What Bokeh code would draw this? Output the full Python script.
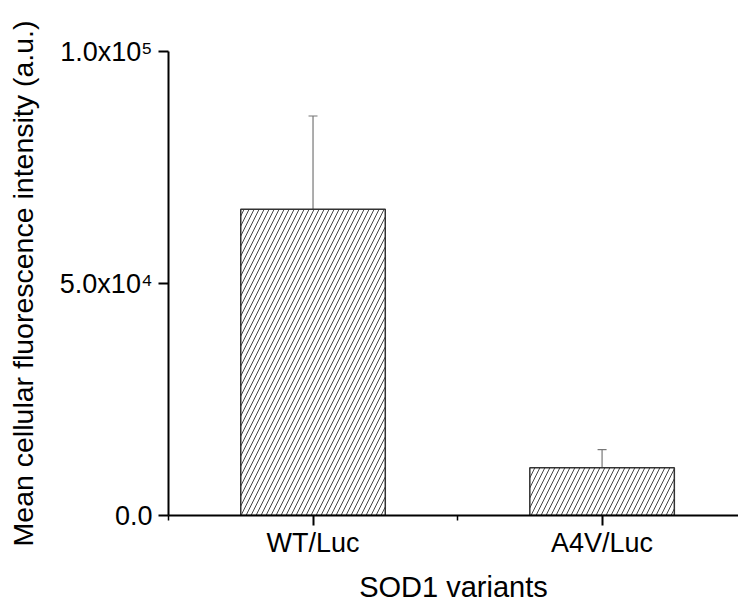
from bokeh.plotting import figure
from bokeh.models import ColumnDataSource, Range1d, FixedTicker, Whisker, TeeHead
from bokeh.embed import file_html
from bokeh.resources import INLINE

categories = ["WT/Luc", "A4V/Luc"]
positions = [1, 2]
means = [66000, 10300]
errors = [20100, 3900]
y_ticks = [0, 50000, 100000]
y_tick_labels = ["0.0", "5.0x10\u2074", "1.0x10\u2075"]
x_title = "SOD1 variants"
y_title = "Mean cellular fluorescence intensity (a.u.)"

src = ColumnDataSource(dict(
    x=positions,
    top=means,
    upper=[m + e for m, e in zip(means, errors)],
))

FONT = "Liberation Sans"

p = figure(width=738, height=605, output_backend="svg", toolbar_location=None,
           x_range=Range1d(0.5, 2.472), y_range=Range1d(0, 100000),
           min_border_left=168, min_border_right=0, min_border_top=51,
           min_border_bottom=88)
p.outline_line_color = None
p.xgrid.visible = False
p.ygrid.visible = False
p.background_fill_color = "white"
p.border_fill_color = "white"

p.vbar(x="x", top="top", width=0.5, bottom=0, source=src,
       fill_color="white", line_color="#333333", line_width=1.5,
       hatch_pattern="/", hatch_scale=10, hatch_weight=1, hatch_color="#444444")

w = Whisker(base="x", lower="top", upper="upper", source=src, dimension="height",
            line_color="#777777", line_width=1.2,
            upper_head=TeeHead(size=9, line_color="#777777", line_width=1.2),
            lower_head=None)
p.add_layout(w)

# x axis
xa = p.xaxis[0]
xa.ticker = FixedTicker(ticks=positions, minor_ticks=[0.5, 1.5, 2.5])
xa.major_label_overrides = {pos: lab for pos, lab in zip(positions, categories)}
xa.axis_label = x_title
xa.axis_label_text_font = FONT
xa.axis_label_text_font_size = "29px"
xa.axis_label_text_font_style = "normal"
xa.axis_label_text_color = "black"
xa.axis_label_text_line_height = 0.8
xa.axis_label_standoff = 10
xa.major_label_text_font = FONT
xa.major_label_text_font_size = "27px"
xa.major_label_text_color = "black"
xa.major_label_standoff = 2
xa.axis_line_width = 2
xa.axis_line_color = "black"
xa.major_tick_out = 10
xa.major_tick_in = 0
xa.major_tick_line_width = 2
xa.minor_tick_out = 5
xa.minor_tick_in = 0
xa.minor_tick_line_width = 1.5

# y axis
ya = p.yaxis[0]
ya.ticker = FixedTicker(ticks=y_ticks, minor_ticks=[])
ya.major_label_overrides = {t: lab for t, lab in zip(y_ticks, y_tick_labels)}
ya.axis_label = y_title
ya.axis_label_text_font = FONT
ya.axis_label_text_font_size = "28.5px"
ya.axis_label_text_font_style = "normal"
ya.axis_label_text_color = "black"
ya.axis_label_standoff = 18
ya.major_label_text_font = FONT
ya.major_label_text_font_size = "27px"
ya.major_label_text_color = "black"
ya.major_label_standoff = 6
ya.axis_line_width = 2
ya.axis_line_color = "black"
ya.major_tick_out = 10
ya.major_tick_in = 0
ya.major_tick_line_width = 2
ya.minor_tick_out = 0
ya.minor_tick_in = 0

open("out.html", "w").write(file_html(p, INLINE))
